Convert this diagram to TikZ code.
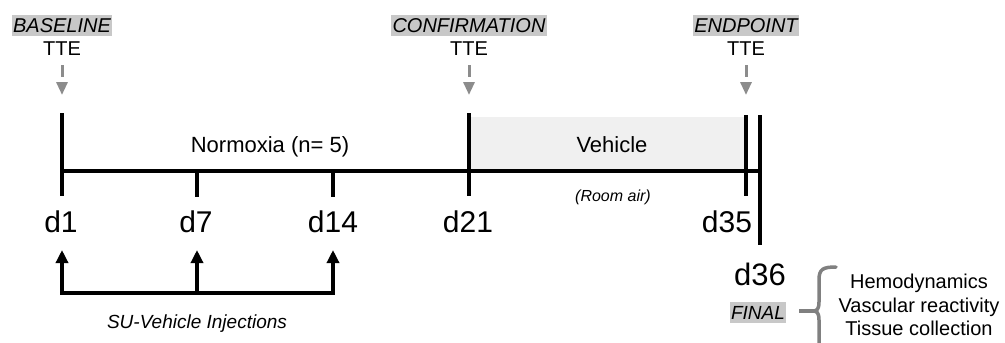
\documentclass[tikz,border=0pt]{standalone}
\usepackage{fontspec}
\setmainfont{Liberation Sans}
\usetikzlibrary{arrows.meta}
\definecolor{hl}{RGB}{200,200,200}
\definecolor{ttegray}{RGB}{140,140,140}
\definecolor{vehfill}{RGB}{240,240,240}
\definecolor{bracegray}{RGB}{128,128,128}
\begin{document}
\begin{tikzpicture}[x=1pt,y=-1pt,
  tag/.style={fill=hl, inner xsep=1.5pt, inner ysep=3.5pt, anchor=base, font=\fontsize{20}{24}\selectfont\itshape},
  tte/.style={anchor=base, inner sep=0pt, font=\fontsize{20}{24}\selectfont},
  day/.style={anchor=base, inner sep=0pt, font=\fontsize{30}{36}\selectfont},
  lbl/.style={anchor=base, inner sep=0pt, font=\fontsize{#1}{#1}\selectfont},
  ilbl/.style={anchor=base, inner sep=0pt, font=\fontsize{#1}{#1}\selectfont\itshape},
  tick/.style={line width=4pt},
  ttearrow/.style={draw=ttegray, line width=3pt, dash pattern=on 12pt off 5pt, -{Triangle[width=11pt,length=13pt]}},
  inj/.style={line width=3.5pt, line join=miter},
  injtip/.style={-{Triangle[width=12pt,length=13pt]}},
  bracel/.style={draw=bracegray, line width=3.5pt, line cap=round}
]
\useasboundingbox (0,0) rectangle (1005,343);

% shaded vehicle period
\node[fill=vehfill, inner sep=0pt, minimum width=274pt, minimum height=53pt] (vehbox) at (608,143.5) {};

% top labels
\node[tag] (bl) at (62,32) {BASELINE};
\node[tte] (t1) at (62,55) {TTE};
\node[tag] (cf) at (469,32) {CONFIRMATION};
\node[tte] (t2) at (469,55) {TTE};
\node[tag] (ep) at (746,32) {ENDPOINT};
\node[tte] (t3) at (746,55) {TTE};

% dashed gray arrows
\coordinate (a1s) at (62,65);  \coordinate (a1e) at (62,95);
\coordinate (a2s) at (469,65); \coordinate (a2e) at (469,95);
\coordinate (a3s) at (746,65); \coordinate (a3e) at (746,95);
\draw[ttearrow] (a1s) -- (a1e);
\draw[ttearrow] (a2s) -- (a2e);
\draw[ttearrow] (a3s) -- (a3e);

% timeline
\coordinate (L) at (60,171);
\coordinate (R) at (760,171);
\draw[tick] (L) -- (R);
\coordinate (d1t) at (62,113);   \coordinate (d1b) at (62,196);
\coordinate (d7t) at (197,171);  \coordinate (d7b) at (197,197);
\coordinate (d14t) at (333,171); \coordinate (d14b) at (333,197);
\coordinate (d21t) at (469,113); \coordinate (d21b) at (469,196);
\coordinate (d35t) at (746,115); \coordinate (d35b) at (746,196);
\coordinate (d36t) at (760,115); \coordinate (d36b) at (760,245);
\draw[tick] (d1t) -- (d1b);
\draw[tick] (d7t) -- (d7b);
\draw[tick] (d14t) -- (d14b);
\draw[tick] (d21t) -- (d21b);
\draw[tick] (d35t) -- (d35b);
\draw[tick] (d36t) -- (d36b);

% period labels
\node[lbl=22] (norm) at (270,152) {Normoxia (n= 5)};
\node[lbl=22] (veh) at (612,152) {Vehicle};
\node[ilbl=16] (room) at (613,201) {(Room air)};

% day labels
\node[day] (d1) at (61,232) {d1};
\node[day] (d7) at (196,232) {d7};
\node[day] (d14) at (333,232) {d14};
\node[day] (d21) at (468,232) {d21};
\node[day] (d35) at (727,232) {d35};
\node[day, font=\fontsize{31}{36}\selectfont] (d36) at (760,285) {d36};

% injections
\coordinate (i1b) at (62,293);  \coordinate (i1t) at (62,250);
\coordinate (i2b) at (197,293); \coordinate (i2t) at (197,250);
\coordinate (i3b) at (333,293); \coordinate (i3t) at (333,250);
\draw[inj, {Triangle[width=12pt,length=13pt]}-{Triangle[width=12pt,length=13pt]}] (i1t) -- (i1b) -- (i3b) -- (i3t);
\draw[inj, injtip] (i2b) -- (i2t);
\node[ilbl=19] (injl) at (197,328) {SU-Vehicle Injections};

% final
\node[tag, font=\fontsize{19}{22}\selectfont\itshape, inner ysep=4pt] (fin) at (758,319) {FINAL};
\coordinate (btop) at (836,267);
\coordinate (btip) at (813,311);
\coordinate (bbot) at (836,355);
\coordinate (fl) at (799,311);
\draw[bracel] (btop) .. controls (823,267) and (819,269) .. (819,280)
  -- (819,302) .. controls (819,309) and (817,311) .. (btip)
  .. controls (817,311) and (819,313) .. (819,320)
  -- (819,342) .. controls (819,353) and (823,355) .. (bbot);
\draw[bracel, line cap=butt] (fl) -- (btip);

\node[lbl=20] (h1) at (919,288) {Hemodynamics};
\node[lbl=20] (h2) at (919,312) {Vascular reactivity};
\node[lbl=20] (h3) at (919,335) {Tissue collection};
\end{tikzpicture}
\end{document}
